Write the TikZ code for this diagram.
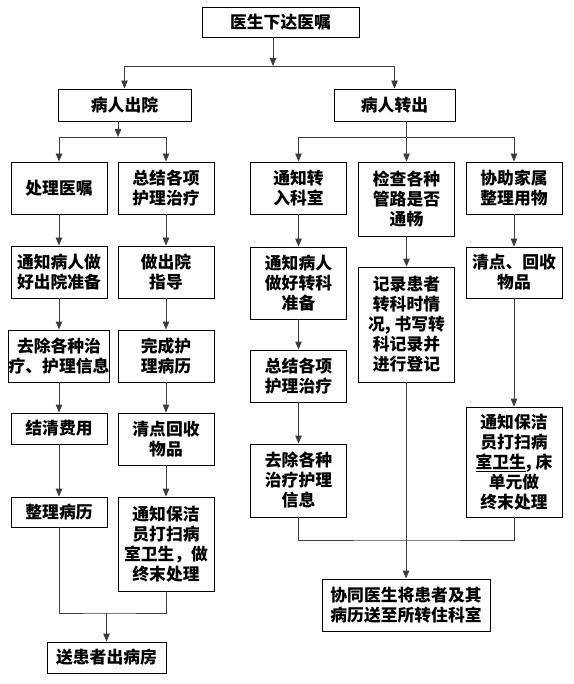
\documentclass[tikz,border=0pt]{standalone}
\usepackage{fontspec}
\setmainfont{Noto Sans CJK SC}
\usetikzlibrary{arrows.meta}
\definecolor{cline}{RGB}{60,60,60}
\tikzset{
  bb/.style={rectangle, draw=black, line width=0.9pt, fill=white,
             font=\fontsize{16.8pt}{20pt}\selectfont\bfseries, align=center,
             inner sep=0pt, minimum width=#1},
  bb/.default=96pt,
  arr/.style={-{Triangle[length=8pt,width=6.5pt]}, line width=0.9pt, color=cline},
  ln/.style={line width=0.9pt, color=cline},
}

\begin{document}
\begin{tikzpicture}[x=1pt, y=-1pt]
  \useasboundingbox[fill=white] (0,0) rectangle (573,684);

  % ── Top ────────────────────────────────────────────────────────────────────
  \node[bb=157pt, minimum height=30pt] at (280.5,22) (doc) {医生下达医嘱};
  \node[bb=133pt, minimum height=32pt] at (124.5,105) (out) {病人出院};
  \node[bb=121pt, minimum height=32pt] at (394.5,105) (trans) {病人转出};

  % ── Discharge, column 1 ────────────────────────────────────────────────────
  \node[bb, minimum height=52pt] at (59,188) (la) {处理医嘱};
  \node[bb, minimum height=52pt] at (59,272) (lb) {通知病人做\\好出院准备};
  \node[bb, minimum height=52pt] at (59,356) (lc) {去除各种治\\疗、护理信息};
  \node[bb, minimum height=31pt] at (59,428.5) (ld) {结清费用};
  \node[bb, minimum height=30pt] at (59,512) (le) {整理病历};

  % ── Discharge, column 2 ────────────────────────────────────────────────────
  \node[bb, minimum height=52pt] at (166,188) (ma) {总结各项\\护理治疗};
  \node[bb, minimum height=52pt] at (166,272) (mb) {做出院\\指导};
  \node[bb, minimum height=52pt] at (166,356) (mc) {完成护\\理病历};
  \node[bb, minimum height=52pt] at (166,439) (md) {清点回收\\物品};
  \node[bb, minimum height=94pt] at (166,544) (me)
      {通知保洁\\员打扫病\\室卫生，做\\终末处理};
  \node[bb=119pt, minimum height=31pt] at (106.5,657.5) (send) {送患者出病房};

  % ── Transfer ───────────────────────────────────────────────────────────────
  \node[bb, minimum height=52pt] at (298.5,188) (ra) {通知转\\入科室};
  \node[bb, minimum height=72pt] at (298.5,283) (rb) {通知病人\\做好转科\\准备};
  \node[bb, minimum height=52pt] at (298.5,376) (rc) {总结各项\\护理治疗};
  \node[bb, minimum height=73pt] at (298.5,480.5) (rd) {去除各种\\治疗护理\\信息};

  \node[bb, minimum height=74pt] at (406.5,199) (sa) {检查各种\\管路是否\\通畅};
  \node[bb, minimum height=115pt] at (406.5,324.5) (sb)
      {记录患者\\转科时情\\况, 书写转\\科记录并\\进行登记};

  \node[bb, minimum height=52pt] at (514,188) (ta) {协助家属\\整理用物};
  \node[bb, minimum height=51pt] at (514,272.5) (tb) {清点、回收\\物品};
  \node[bb, minimum height=110pt] at (514,462) (tc)
      {通知保洁\\员打扫病\\\underline{室卫生}, 床\\单元做\\终末处理};

  \node[bb=168pt, minimum height=52pt] at (406,605) (join)
      {协同医生将患者及其\\病历送至所转住科室};

  % ── Arrows ─────────────────────────────────────────────────────────────────
  \coordinate (j0) at (273,66);
  \draw[arr] (doc.south -| j0) -- (j0);
  \draw[arr] (j0) -| (out);
  \draw[arr] (j0) -| (trans);

  \coordinate (j1) at (118,137);
  \draw[arr] (out.south -| j1) -- (j1);
  \draw[arr] (j1) -| (la);
  \draw[arr] (j1) -| (ma);

  \coordinate (j2) at (406.5,137);
  \draw[arr] (trans.south -| j2) -- (sa);
  \draw[arr] (j2) -| (ra);
  \draw[arr] (j2) -| (ta);

  \draw[arr] (la) -- (lb);
  \draw[arr] (lb) -- (lc);
  \draw[arr] (lc) -- (ld);
  \draw[arr] (ld) -- (le);
  \draw[arr] (ma) -- (mb);
  \draw[arr] (mb) -- (mc);
  \draw[arr] (mc) -- (md);
  \draw[arr] (md) -- (me);

  \draw[arr] (ra) -- (rb);
  \draw[arr] (rb) -- (rc);
  \draw[arr] (rc) -- (rd);
  \draw[arr] (sa) -- (sb);
  \draw[arr] (ta) -- (tb);
  \draw[arr] (tb) -- (tc);

  \coordinate (m1) at (106.5,613);
  \draw[ln] (le) |- (m1) -| (me);
  \draw[arr] (m1) -- (send);

  \coordinate (m2) at (406.5,540);
  \draw[ln] (rd) |- (m2) -| (tc);
  \draw[arr] (sb.south -| join) -- (join);
\end{tikzpicture}
\end{document}
